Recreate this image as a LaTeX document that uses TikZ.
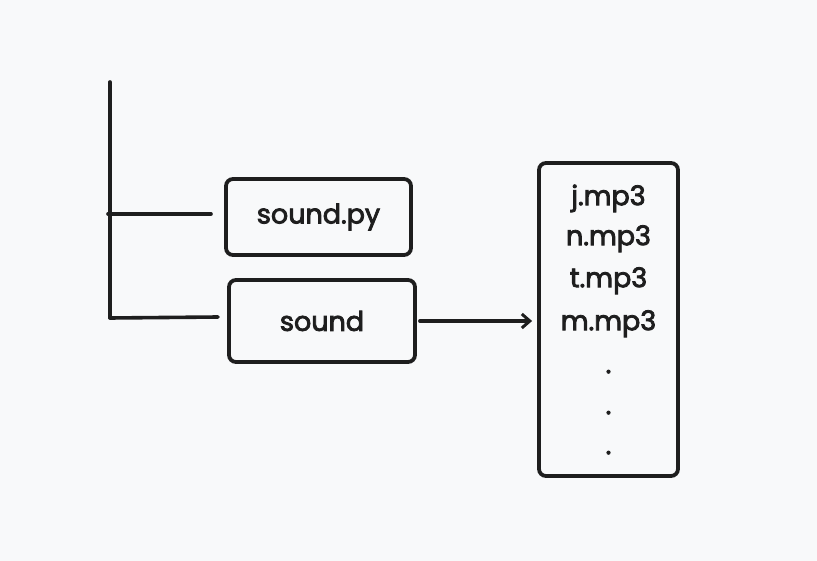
\documentclass[tikz,border=0pt]{standalone}
\usepackage{fontspec}
\setmainfont{Poppins}[FakeBold=3]
\usetikzlibrary{arrows.meta,positioning}
\definecolor{skbg}{HTML}{F8F9FA}
\definecolor{skink}{HTML}{1E1E1E}
\begin{document}
\begin{tikzpicture}[x=1pt, y=-1pt, draw=skink,
  box/.style={draw=skink, line width=3.8pt, rounded corners=7pt, fill=skbg,
    text=skink, inner sep=0pt, font=\fontsize{27}{40}\selectfont},
  ln/.style={draw=skink, line width=3.6pt, line cap=round},
  ar/.style={ln, -{Straight Barb[length=8pt, width=14pt, line width=3pt]}}]
  \fill[skbg] (0,0) rectangle (817,561);
  % tree trunk
  \coordinate (top) at (110,82);
  \coordinate (mid) at (108,214);
  \coordinate (bot) at (110,318);
  \node[box, minimum width=185pt, minimum height=76pt] (py) at (318.5,217) {sound.py};
  \node[box, minimum width=186pt, minimum height=82pt] (snd) at (322,321) {sound};
  \node[box, minimum width=139pt, minimum height=313pt, align=center] (files) at (608.5,319.5)
    {j.mp3\\n.mp3\\[2pt]t.mp3\\[3pt]m.mp3\\[3pt].\\[1pt].\\.};
  \coordinate (pyend) at (211,214);
  \coordinate (sndend) at (218,317);
  \draw[ln] (top) -- (bot);
  \draw[ln] (mid) -- (pyend);
  \draw[ln] (bot) -- (sndend);
  \draw[ar] (snd.east) ++(3,0) coordinate (from) (from) -- ([xshift=-5pt]files.west |- from);
\end{tikzpicture}
\end{document}
